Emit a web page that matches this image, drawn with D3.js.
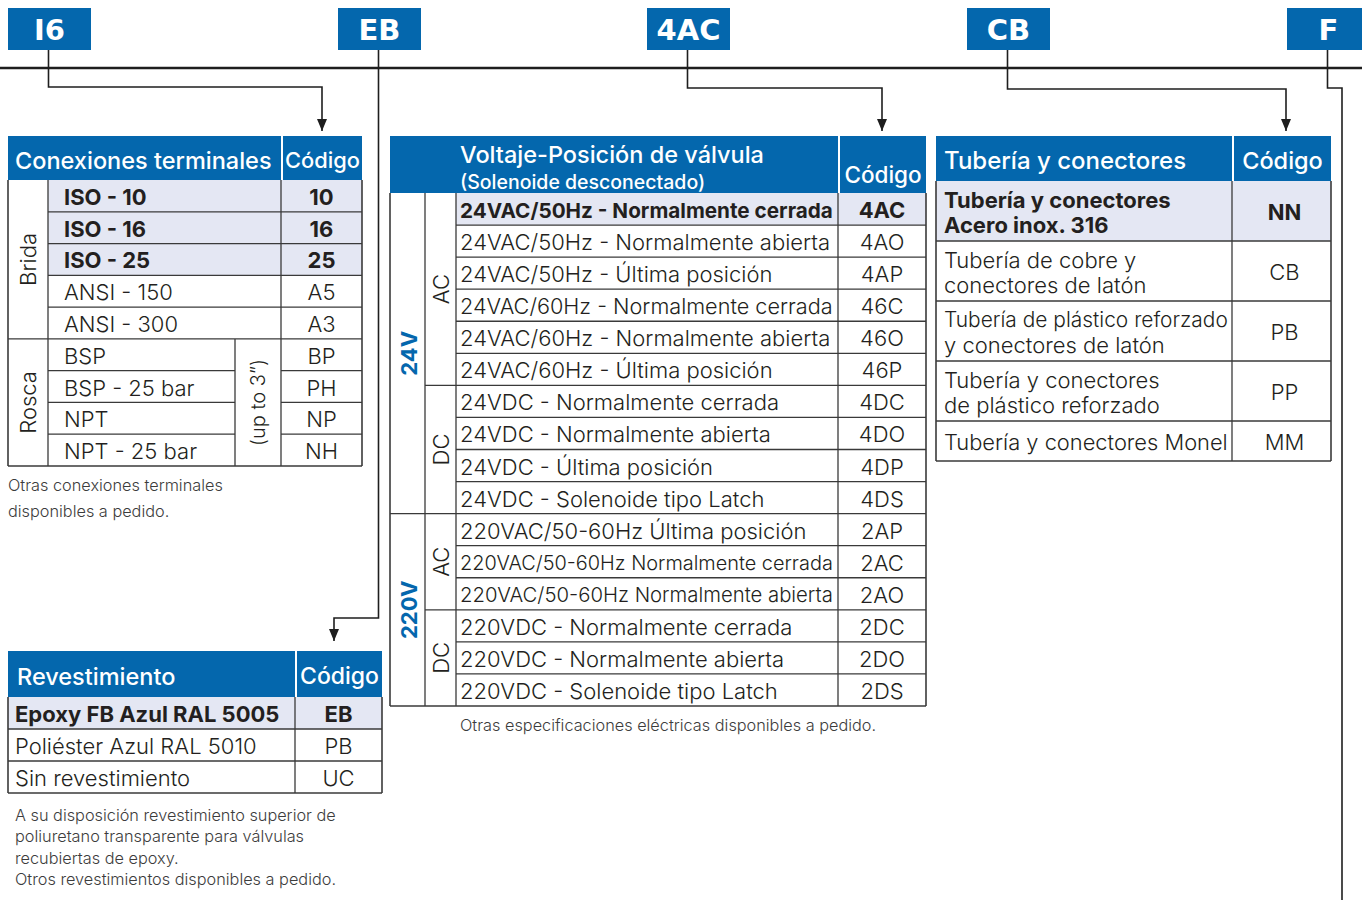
<!DOCTYPE html>
<html><head><meta charset="utf-8">
<script src="https://cdn.jsdelivr.net/npm/d3@7"></script>
<style>body{margin:0;background:#fff}</style>
</head><body><svg id="c" width="1362" height="900"></svg>
<script>
// ---------------- DATA ----------------
const tagCodes = ["I6", "EB", "4AC", "CB", "F"];

const conexTitle = "Conexiones terminales";
const conexLabels = ["ISO - 10", "ISO - 16", "ISO - 25", "ANSI - 150", "ANSI - 300", "BSP", "BSP - 25 bar", "NPT", "NPT - 25 bar"];
const conexCodes = ["10", "16", "25", "A5", "A3", "BP", "PH", "NP", "NH"];
const conexGroups = ["Brida", "Brida", "Brida", "Brida", "Brida", "Rosca", "Rosca", "Rosca", "Rosca"];
const conexBold = [true, true, true, false, false, false, false, false, false];
const conexSubNote = "(up to 3\u201D)";
const conexNotes = ["Otras conexiones terminales", "disponibles a pedido."];

const voltTitle = ["Voltaje-Posición de válvula", "(Solenoide desconectado)"];
const voltLabels = [
  "24VAC/50Hz - Normalmente cerrada", "24VAC/50Hz - Normalmente abierta", "24VAC/50Hz - Última posición",
  "24VAC/60Hz - Normalmente cerrada", "24VAC/60Hz - Normalmente abierta", "24VAC/60Hz - Última posición",
  "24VDC - Normalmente cerrada", "24VDC - Normalmente abierta", "24VDC - Última posición", "24VDC - Solenoide tipo Latch",
  "220VAC/50-60Hz Última posición", "220VAC/50-60Hz Normalmente cerrada", "220VAC/50-60Hz Normalmente abierta",
  "220VDC - Normalmente cerrada", "220VDC - Normalmente abierta", "220VDC - Solenoide tipo Latch"];
const voltCodes = ["4AC", "4AO", "4AP", "46C", "46O", "46P", "4DC", "4DO", "4DP", "4DS", "2AP", "2AC", "2AO", "2DC", "2DO", "2DS"];
const voltGroups = ["24V","24V","24V","24V","24V","24V","24V","24V","24V","24V","220V","220V","220V","220V","220V","220V"];
const currentGroups = ["AC","AC","AC","AC","AC","AC","DC","DC","DC","DC","AC","AC","AC","DC","DC","DC"];
const voltBold = [true, false, false, false, false, false, false, false, false, false, false, false, false, false, false, false];
const voltNote = "Otras especificaciones eléctricas disponibles a pedido.";

const tubeTitle = "Tubería y conectores";
const tubeLabels = [
  ["Tubería y conectores", "Acero inox. 316"],
  ["Tubería de cobre y", "conectores de latón"],
  ["Tubería de plástico reforzado", "y conectores de latón"],
  ["Tubería y conectores", "de plástico reforzado"],
  ["Tubería y conectores Monel"]];
const tubeCodes = ["NN", "CB", "PB", "PP", "MM"];
const tubeBold = [true, false, false, false, false];

const coatTitle = "Revestimiento";
const coatLabels = ["Epoxy FB Azul RAL 5005", "Poliéster Azul RAL 5010", "Sin revestimiento"];
const coatCodes = ["EB", "PB", "UC"];
const coatBold = [true, false, false];
const coatNotes = ["A su disposición revestimiento superior de", "poliuretano transparente para válvulas",
  "recubiertas de epoxy.", "Otros revestimientos disponibles a pedido."];

const codeHeader = "Código";

// ---------------- STYLE / LAYOUT ----------------
const BLUE = "#0467ad", SHADE = "#e4e7f3", INK = "#231f20", LINE = "#3a3a3a", NOTE = "#3c3c3c";
const FF = "Inter, Roboto, 'Liberation Sans', Arial, sans-serif";
const svg = d3.select("#c");

function txt(g, s, x, y, o = {}) {
  const size = o.size || 22;
  const t = g.append("text").attr("x", x).attr("y", y).text(s)
    .attr("font-family", o.family || FF).attr("font-size", size)
    .attr("font-weight", o.weight || 300).attr("fill", o.fill || INK)
    .attr("text-anchor", o.anchor || "start").attr("dominant-baseline", o.base || "central");
  if (o.rotate) t.attr("transform", `rotate(-90 ${x} ${y})`);
  if (o.maxW) {
    const w = t.node().getComputedTextLength();
    if (w > o.maxW) t.attr("font-size", size * o.maxW / w);
  }
  return t;
}
function ln(g, x1, y1, x2, y2, o = {}) {
  return g.append("line").attr("x1", x1).attr("y1", y1).attr("x2", x2).attr("y2", y2)
    .attr("stroke", o.stroke || LINE).attr("stroke-width", o.w || 1.3);
}
function rect(g, x, y, w, h, fill) {
  return g.append("rect").attr("x", x).attr("y", y).attr("width", w).attr("height", h).attr("fill", fill);
}
function spans(arr) {
  const out = [];
  arr.forEach((k, i) => {
    if (out.length && out[out.length - 1].key === k) out[out.length - 1].end = i;
    else out.push({ key: k, start: i, end: i });
  });
  return out;
}
const HW = 500; // header weight

// ---------- tags, main line, connectors ----------
const tagLeft = [8, 338, 647, 967, 1287], tagW = 83, tagTop = 8, tagH = 42;
const gTags = svg.append("g");
tagCodes.forEach((c, i) => {
  rect(gTags, tagLeft[i], tagTop, tagW, tagH, BLUE);
  txt(gTags, c, tagLeft[i] + tagW / 2, tagTop + tagH / 2 + 1, { size: 29, weight: 700, fill: "#fff", anchor: "middle", family: "'DejaVu Sans', sans-serif" });
});
ln(svg, 0, 68, 1362, 68, { stroke: "#1e1e1e", w: 2.6 });

svg.append("defs").append("marker").attr("id", "arr").attr("viewBox", "0 0 10 12")
  .attr("refX", 5).attr("refY", 12).attr("markerWidth", 10).attr("markerHeight", 12)
  .attr("markerUnits", "userSpaceOnUse").attr("orient", "0")
  .append("path").attr("d", "M0,0 L10,0 L5,12 Z").attr("fill", "#1e1e1e");

const cx = i => tagLeft[i] + tagW / 2 - 1;
const connectors = [
  { pts: [[cx(0), 50], [cx(0), 87], [322, 87], [322, 131]], arrow: true },
  { pts: [[cx(1), 50], [cx(1), 618], [334, 618], [334, 641]], arrow: true },
  { pts: [[cx(2), 50], [cx(2), 88], [882, 88], [882, 131]], arrow: true },
  { pts: [[cx(3), 50], [cx(3), 89], [1286, 89], [1286, 131]], arrow: true },
  { pts: [[cx(4), 50], [cx(4), 88], [1342, 88], [1342, 900]], arrow: false }];
connectors.forEach(c => {
  const p = svg.append("path").attr("d", d3.line()(c.pts)).attr("fill", "none")
    .attr("stroke", "#1e1e1e").attr("stroke-width", 1.6);
  if (c.arrow) p.attr("marker-end", "url(#arr)");
});

// ---------- Table 1: Conexiones terminales ----------
(function () {
  const g = svg.append("g");
  const x0 = 8, xg = 48, xs = 235, xc = 281, x1 = 362, hy0 = 136, hy1 = 180, by1 = 466;
  const y = d3.scaleBand().domain(d3.range(conexLabels.length)).range([hy1, by1]);
  const bw = y.bandwidth();
  rect(g, x0, hy0, x1 - x0, hy1 - hy0, BLUE);
  ln(g, xc + 1, hy0, xc + 1, hy1, { stroke: "#fff", w: 2 });
  txt(g, conexTitle, 15, (hy0 + hy1) / 2 + 2, { size: 23.5, weight: HW, fill: "#fff", maxW: xc - 20 });
  txt(g, codeHeader, (xc + x1) / 2 + 1, (hy0 + hy1) / 2 + 2, { size: 22, weight: HW, fill: "#fff", anchor: "middle", maxW: x1 - xc - 6 });
  conexLabels.forEach((l, i) => {
    if (conexBold[i]) rect(g, xg, y(i), x1 - xg, bw, SHADE);
  });
  conexLabels.forEach((l, i) => {
    const w = conexBold[i] ? 700 : 300;
    const right = conexGroups[i] === "Rosca" ? xs : xc;
    txt(g, l, 64, y(i) + bw / 2 + 1, { weight: w, maxW: right - 68 });
    txt(g, conexCodes[i], (xc + x1) / 2, y(i) + bw / 2 + 1, { weight: w, anchor: "middle" });
  });
  for (let i = 1; i < conexLabels.length; i++) {
    const yy = y(i);
    if (conexGroups[i] !== conexGroups[i - 1]) ln(g, x0, yy, x1, yy);
    else if (conexGroups[i] === "Rosca") { ln(g, xg, yy, xs, yy); ln(g, xc, yy, x1, yy); }
    else ln(g, xg, yy, x1, yy);
  }
  ln(g, xg, hy1, xg, by1); ln(g, xc, hy1, xc, by1);
  const ros = spans(conexGroups).find(s => s.key === "Rosca");
  ln(g, xs, y(ros.start), xs, by1);
  ln(g, x0, hy1, x0, by1, { w: 1.6 }); ln(g, x1, hy1, x1, by1, { w: 1.6 }); ln(g, x0, by1, x1, by1, { w: 1.6 });
  spans(conexGroups).forEach(s => {
    const cy = (y(s.start) + y(s.end) + bw) / 2;
    txt(g, s.key, (x0 + xg) / 2, cy, { rotate: true, anchor: "middle", size: 22 });
  });
  txt(g, conexSubNote, (xs + xc) / 2, (y(ros.start) + by1) / 2, { rotate: true, anchor: "middle", size: 20 });
  conexNotes.forEach((n, i) => txt(g, n, 8, 485 + i * 26, { size: 16.3, fill: NOTE }));
})();

// ---------- Table 2: Voltaje ----------
(function () {
  const g = svg.append("g");
  const x0 = 390, xv = 425, xa = 456, xc = 838, x1 = 926, hy0 = 136, hy1 = 193, by1 = 706;
  const y = d3.scaleBand().domain(d3.range(voltLabels.length)).range([hy1, by1]);
  const bw = y.bandwidth();
  rect(g, x0, hy0, x1 - x0, hy1 - hy0, BLUE);
  ln(g, xc + 1, hy0, xc + 1, hy1, { stroke: "#fff", w: 2 });
  txt(g, voltTitle[0], 460, 154.5, { size: 23.5, weight: HW, fill: "#fff" });
  txt(g, voltTitle[1], 460, 181.5, { size: 19.5, weight: HW, fill: "#fff" });
  txt(g, codeHeader, (xc + x1) / 2 + 1, 174, { size: 22.5, weight: HW, fill: "#fff", anchor: "middle", maxW: x1 - xc - 6 });
  voltLabels.forEach((l, i) => { if (voltBold[i]) rect(g, xa, y(i), x1 - xa, bw, SHADE); });
  voltLabels.forEach((l, i) => {
    const w = voltBold[i] ? 700 : 300;
    txt(g, l, 460, y(i) + bw / 2 + 1, { weight: w, maxW: xc - 465 });
    txt(g, voltCodes[i], (xc + x1) / 2, y(i) + bw / 2 + 1, { weight: w, anchor: "middle" });
  });
  for (let i = 1; i < voltLabels.length; i++) {
    const yy = y(i);
    if (voltGroups[i] !== voltGroups[i - 1]) ln(g, x0, yy, x1, yy);
    else if (currentGroups[i] !== currentGroups[i - 1]) ln(g, xv, yy, x1, yy);
    else ln(g, xa, yy, x1, yy);
  }
  ln(g, xv, hy1, xv, by1); ln(g, xa, hy1, xa, by1); ln(g, xc, hy1, xc, by1);
  ln(g, x0, hy1, x0, by1, { w: 1.6 }); ln(g, x1, hy1, x1, by1, { w: 1.6 }); ln(g, x0, by1, x1, by1, { w: 1.6 });
  spans(voltGroups).forEach(s => {
    const cy = (y(s.start) + y(s.end) + bw) / 2;
    txt(g, s.key, (x0 + xv) / 2 + 1, cy, { rotate: true, anchor: "middle", size: 22, weight: 700, fill: BLUE });
  });
  spans(voltGroups.map((v, i) => v + "|" + currentGroups[i])).forEach(s => {
    const cy = (y(s.start) + y(s.end) + bw) / 2;
    txt(g, s.key.split("|")[1], (xv + xa) / 2, cy, { rotate: true, anchor: "middle", size: 22 });
  });
  txt(g, voltNote, 460, 725, { size: 16.3, fill: NOTE });
})();

// ---------- Table 3: Tubería ----------
(function () {
  const g = svg.append("g");
  const x0 = 936, xc = 1232, x1 = 1331, hy0 = 136, hy1 = 181;
  const heights = tubeLabels.map(l => l.length > 1 ? 60 : 40);
  const tops = [hy1, ...d3.cumsum(heights).map(v => hy1 + v)];
  const by1 = tops[tops.length - 1];
  rect(g, x0, hy0, x1 - x0, hy1 - hy0, BLUE);
  ln(g, xc + 1, hy0, xc + 1, hy1, { stroke: "#fff", w: 2 });
  txt(g, tubeTitle, 944, (hy0 + hy1) / 2 + 2, { size: 24, weight: HW, fill: "#fff" });
  txt(g, codeHeader, (xc + x1) / 2 + 1, (hy0 + hy1) / 2 + 2, { size: 23.5, weight: HW, fill: "#fff", anchor: "middle", maxW: x1 - xc - 8 });
  tubeLabels.forEach((l, i) => { if (tubeBold[i]) rect(g, x0, tops[i], x1 - x0, heights[i], SHADE); });
  tubeLabels.forEach((lines, i) => {
    const w = tubeBold[i] ? 700 : 300;
    const cy = tops[i] + heights[i] / 2;
    lines.forEach((s, j) => txt(g, s, 944, cy + (j - (lines.length - 1) / 2) * 25 + 1, { weight: w, maxW: xc - 948 }));
    txt(g, tubeCodes[i], (xc + x1) / 2 + 3, cy + 1, { weight: w, anchor: "middle" });
  });
  tops.slice(1, -1).forEach(yy => ln(g, x0, yy, x1, yy));
  ln(g, xc, hy1, xc, by1);
  ln(g, x0, hy1, x0, by1, { w: 1.6 }); ln(g, x1, hy1, x1, by1, { w: 1.6 }); ln(g, x0, by1, x1, by1, { w: 1.6 });
})();

// ---------- Table 4: Revestimiento ----------
(function () {
  const g = svg.append("g");
  const x0 = 8, xc = 295, x1 = 382, hy0 = 651, hy1 = 697, by1 = 793;
  const y = d3.scaleBand().domain(d3.range(coatLabels.length)).range([hy1, by1]);
  const bw = y.bandwidth();
  rect(g, x0, hy0, x1 - x0, hy1 - hy0, BLUE);
  ln(g, xc + 1, hy0, xc + 1, hy1, { stroke: "#fff", w: 2 });
  txt(g, coatTitle, 17, (hy0 + hy1) / 2 + 2, { size: 23.5, weight: HW, fill: "#fff" });
  txt(g, codeHeader, (xc + x1) / 2 + 1, (hy0 + hy1) / 2 + 2, { size: 23, weight: HW, fill: "#fff", anchor: "middle", maxW: x1 - xc - 6 });
  coatLabels.forEach((l, i) => { if (coatBold[i]) rect(g, x0, y(i), x1 - x0, bw, SHADE); });
  coatLabels.forEach((l, i) => {
    const w = coatBold[i] ? 700 : 300;
    txt(g, l, 15, y(i) + bw / 2 + 1, { weight: w, maxW: xc - 19 });
    txt(g, coatCodes[i], (xc + x1) / 2, y(i) + bw / 2 + 1, { weight: w, anchor: "middle" });
  });
  for (let i = 1; i < coatLabels.length; i++) ln(g, x0, y(i), x1, y(i));
  ln(g, xc, hy1, xc, by1);
  ln(g, x0, hy1, x0, by1, { w: 1.6 }); ln(g, x1, hy1, x1, by1, { w: 1.6 }); ln(g, x0, by1, x1, by1, { w: 1.6 });
  coatNotes.forEach((n, i) => txt(g, n, 15, 815 + i * 21.3, { size: 16.3, fill: NOTE }));
})();
</script>
</body></html>
